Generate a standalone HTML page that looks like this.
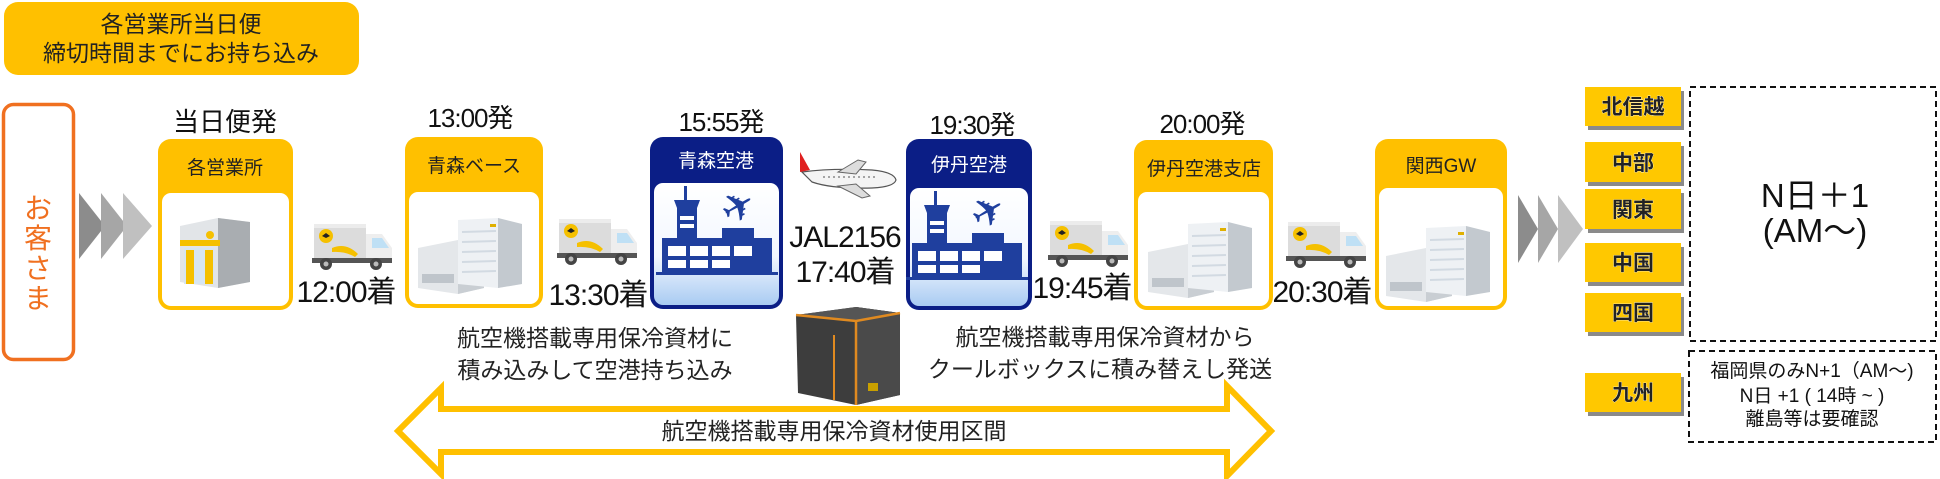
<!DOCTYPE html>
<html><head><meta charset="utf-8"><style>
html,body{margin:0;padding:0;background:#fff;}
svg{display:block;}
text{font-family:"Liberation Sans","Noto Sans CJK JP",sans-serif;}
</style></head><body>
<svg width="1940" height="479" viewBox="0 0 1940 479" xmlns="http://www.w3.org/2000/svg">
<defs>
<linearGradient id="ag" x1="0" y1="0" x2="0" y2="1">
<stop offset="0" stop-color="#ffffff"/><stop offset="0.6" stop-color="#f2f7ff"/><stop offset="1" stop-color="#a9cbf2"/>
</linearGradient>
<g id="truck">
<rect x="0" y="0" width="52" height="34" fill="#dcdcdc"/>
<rect x="0" y="0" width="52" height="4" fill="#ececec"/>
<circle cx="12" cy="12" r="7" fill="#f5c000"/>
<path d="M8 12 l4 -3 l4 3 l-4 2z" fill="#222"/>
<path d="M18 24 q14 -6 26 6 l-3 3 q-10 -6 -23 -5z" fill="#f5c000"/>
<path d="M52 10 h16 l10 14 v12 h-26z" fill="#eeeeee"/>
<path d="M58 14 h10 l7 10 h-17z" fill="#bfe0f5"/>
<rect x="-2" y="34" width="80" height="5" fill="#555"/>
<circle cx="12" cy="40" r="6" fill="#444"/><circle cx="12" cy="40" r="2.5" fill="#bbb"/>
<circle cx="62" cy="40" r="6" fill="#444"/><circle cx="62" cy="40" r="2.5" fill="#bbb"/>
</g>
<g id="bldg">
<path d="M0 30 l40 -8 l26 6 v42 l-26 6 l-40 -6z" fill="#e4e7ea"/>
<path d="M40 22 l26 6 v42 l-26 6z" fill="#c9ced3"/>
<path d="M40 2 l40 -2 l24 6 v60 l-24 4 l-40 -4z" fill="#eef1f4"/>
<path d="M80 0 l24 6 v60 l-24 4z" fill="#c3c9cf"/>
<g stroke="#d2dae2" stroke-width="2"><line x1="44" y1="14" x2="78" y2="13"/><line x1="44" y1="24" x2="78" y2="23"/><line x1="44" y1="34" x2="78" y2="33"/><line x1="44" y1="44" x2="78" y2="43"/><line x1="44" y1="54" x2="78" y2="53"/></g>
<rect x="4" y="56" width="32" height="9" fill="#bfc5cb"/>
<rect x="72" y="6" width="6" height="3" fill="#e0b000"/>
</g>
<g id="apt" fill="#1f3f9e">
<rect x="22" y="6" width="3" height="14"/>
<path d="M12 20 h26 l-3 8 h-20z"/>
<rect x="15" y="28" width="20" height="34"/>
<rect x="18" y="36" width="14" height="4" fill="#fff"/><rect x="18" y="44" width="14" height="4" fill="#fff"/>
<rect x="60" y="48" width="32" height="14"/>
<rect x="0" y="58" width="110" height="34"/>
<rect x="6" y="66" width="18" height="10" fill="#fff"/><rect x="28" y="66" width="18" height="10" fill="#fff"/><rect x="50" y="66" width="18" height="10" fill="#fff"/><rect x="72" y="66" width="18" height="10" fill="#fff"/>
<rect x="6" y="80" width="18" height="8" fill="#fff"/><rect x="28" y="80" width="18" height="8" fill="#fff"/><rect x="50" y="80" width="18" height="8" fill="#fff"/>
<rect x="-6" y="92" width="122" height="3"/>
<text x="78" y="40" font-size="40" transform="rotate(-30 78 30)" text-anchor="middle" fill="#1f3f9e">✈</text>
</g>
</defs>

<!-- top box -->
<rect x="4" y="2" width="355" height="73" rx="14" fill="#ffc000"/>
<text x="181" y="32" font-size="23" text-anchor="middle" fill="#222">各営業所当日便</text>
<text x="181" y="61" font-size="23" text-anchor="middle" fill="#222">締切時間までにお持ち込み</text>

<!-- customer -->
<rect x="3.5" y="104.5" width="70" height="255" rx="10" fill="#fff" stroke="#f07020" stroke-width="3.5"/>
<g font-size="28" fill="#f07020" text-anchor="middle"><text x="38" y="218">お</text><text x="38" y="248">客</text><text x="38" y="278">さ</text><text x="38" y="308">ま</text></g>

<!-- chevrons left -->
<path d="M79 193 l26 33 l-26 33z" fill="#8c8c8c"/>
<path d="M101 193 l26 33 l-26 33z" fill="#a6a6a6"/>
<path d="M123 193 l29 33 l-29 33z" fill="#c0c0c0"/>

<!-- station boxes yellow -->
<g>
<rect x="158" y="139" width="135" height="171" rx="13" fill="#ffc000"/>
<rect x="162" y="193" width="127" height="113" rx="9" fill="#fff"/>
<text x="225" y="174" font-size="19" text-anchor="middle" fill="#222">各営業所</text>
<text x="225" y="131" font-size="26" text-anchor="middle" fill="#111">当日便発</text>
<g transform="translate(180,218)">
<path d="M0 8 l38 -8 l32 4 v60 l-32 6 l-38 -6z" fill="#e2e5e8"/>
<path d="M38 0 l32 4 v60 l-32 6z" fill="#a9adb1"/>
<rect x="4" y="30" width="30" height="36" fill="#d7e6f2"/>
<rect x="6" y="32" width="8" height="34" fill="#f5c000"/><rect x="25" y="32" width="8" height="34" fill="#f5c000"/>
<rect x="0" y="22" width="40" height="6" fill="#f5c000"/>
<circle cx="30" cy="17" r="4" fill="#f5c000"/>
</g>
</g>

<g>
<rect x="405" y="137" width="138" height="171" rx="13" fill="#ffc000"/>
<rect x="409" y="192" width="130" height="112" rx="9" fill="#fff"/>
<text x="474" y="172" font-size="19" text-anchor="middle" fill="#222">青森ベース</text>
<text x="470" y="127" font-size="26" text-anchor="middle" fill="#111" letter-spacing="-1">13:00発</text>
<use href="#bldg" x="418" y="218"/>
</g>

<g>
<rect x="1134" y="140" width="139" height="170" rx="13" fill="#ffc000"/>
<rect x="1138" y="192" width="131" height="114" rx="9" fill="#fff"/>
<text x="1204" y="175" font-size="19" text-anchor="middle" fill="#222">伊丹空港支店</text>
<text x="1202" y="133" font-size="26" text-anchor="middle" fill="#111" letter-spacing="-1">20:00発</text>
<use href="#bldg" x="1148" y="222"/>
</g>

<g>
<rect x="1375" y="139" width="132" height="171" rx="13" fill="#ffc000"/>
<rect x="1379" y="188" width="124" height="118" rx="9" fill="#fff"/>
<text x="1441" y="172" font-size="19" text-anchor="middle" fill="#222">関西GW</text>
<use href="#bldg" x="1386" y="226"/>
</g>

<!-- airport boxes -->
<g>
<rect x="650" y="137" width="133" height="172" rx="13" fill="#0b1e86"/>
<rect x="654" y="183" width="125" height="122" rx="9" fill="url(#ag)"/>
<text x="716" y="167" font-size="19" text-anchor="middle" fill="#fff">青森空港</text>
<text x="721" y="131" font-size="26" text-anchor="middle" fill="#111" letter-spacing="-1">15:55発</text>
<use href="#apt" x="662" y="180"/>
</g>
<g>
<rect x="906" y="139" width="126" height="171" rx="13" fill="#0b1e86"/>
<rect x="910" y="188" width="118" height="118" rx="9" fill="url(#ag)"/>
<text x="969" y="171" font-size="19" text-anchor="middle" fill="#fff">伊丹空港</text>
<text x="972" y="134" font-size="26" text-anchor="middle" fill="#111" letter-spacing="-1">19:30発</text>
<use href="#apt" x="912" y="185"/>
</g>

<!-- plane -->
<g transform="translate(798,152)">
<path d="M4 20 q30 -4 70 -2 q22 2 24 10 q-2 7 -24 8 q-40 1 -60 -6z" fill="#f4f4f4" stroke="#555" stroke-width="1.2"/>
<path d="M2 0 l10 18 l-10 2z" fill="#e02020"/>
<path d="M40 20 l20 -12 l8 2 l-10 12z" fill="#ddd" stroke="#666"/>
<path d="M40 34 l24 12 l8 -2 l-14 -12z" fill="#ddd" stroke="#666"/>
<line x1="25" y1="25" x2="80" y2="25" stroke="#555" stroke-dasharray="2 3"/>
</g>
<text x="845" y="247" font-size="30" text-anchor="middle" fill="#111" letter-spacing="-1">JAL2156</text>
<text x="845" y="282" font-size="30" text-anchor="middle" fill="#111" letter-spacing="-1">17:40着</text>

<!-- cool box -->
<g transform="translate(796,305)">
<path d="M0 10 l60 -8 l44 6 v82 l-44 10 l-58 -12z" fill="#3d3d3d"/>
<path d="M60 2 l44 6 v82 l-44 10z" fill="#4a4a4a"/>
<path d="M0 10 l60 -8 l44 6 l-44 8z" fill="#555"/>
<path d="M0 10 l60 6 l44 -8" fill="none" stroke="#e08a20" stroke-width="2.5"/>
<line x1="60" y1="16" x2="60" y2="100" stroke="#e08a20" stroke-width="2.5"/>
<line x1="38" y1="30" x2="38" y2="95" stroke="#e08a20" stroke-width="2"/>
<rect x="72" y="78" width="10" height="8" fill="#c9a000"/>
</g>

<!-- trucks & times -->
<use href="#truck" x="314" y="224"/>
<use href="#truck" x="559" y="219"/>
<use href="#truck" x="1050" y="221"/>
<use href="#truck" x="1288" y="222"/>
<g font-size="30" fill="#111" text-anchor="middle" letter-spacing="-1">
<text x="346" y="302">12:00着</text>
<text x="598" y="305">13:30着</text>
<text x="1082" y="298">19:45着</text>
<text x="1322" y="302">20:30着</text>
</g>

<!-- descriptions -->
<g font-size="23" fill="#222" text-anchor="middle">
<text x="595" y="346">航空機搭載専用保冷資材に</text>
<text x="595" y="378">積み込みして空港持ち込み</text>
<text x="1105" y="345">航空機搭載専用保冷資材から</text>
<text x="1100" y="377">クールボックスに積み替えし発送</text>
</g>

<!-- double arrow -->
<path d="M398 431 L441 388 V409 H1227 V386 L1271 431 L1227 476 V452 H441 V474 Z" fill="#fff" stroke="#ffc000" stroke-width="6" stroke-linejoin="miter"/>
<text x="834" y="439" font-size="23" text-anchor="middle" fill="#222">航空機搭載専用保冷資材使用区間</text>

<!-- chevrons right -->
<path d="M1518 195 l20 34 l-20 34z" fill="#8c8c8c"/>
<path d="M1538 195 l20 34 l-20 34z" fill="#a6a6a6"/>
<path d="M1558 195 l25 34 l-25 34z" fill="#c0c0c0"/>

<!-- region labels -->
<g>
<rect x="1588" y="91" width="96" height="39" fill="#8a8a8a"/><rect x="1585" y="87" width="96" height="39" fill="#ffc800"/>
<rect x="1588" y="146" width="96" height="40" fill="#8a8a8a"/><rect x="1585" y="142" width="96" height="40" fill="#ffc800"/>
<rect x="1588" y="193" width="96" height="40" fill="#8a8a8a"/><rect x="1585" y="189" width="96" height="40" fill="#ffc800"/>
<rect x="1588" y="247" width="96" height="39" fill="#8a8a8a"/><rect x="1585" y="243" width="96" height="39" fill="#ffc800"/>
<rect x="1588" y="297" width="96" height="39" fill="#8a8a8a"/><rect x="1585" y="293" width="96" height="39" fill="#ffc800"/>
<rect x="1588" y="377" width="96" height="39" fill="#8a8a8a"/><rect x="1585" y="373" width="96" height="39" fill="#ffc800"/>
</g>
<g font-size="21" font-weight="bold" fill="#222" text-anchor="middle" stroke="#fff" stroke-width="0.6" style="paint-order:stroke">
<text x="1633" y="114">北信越</text>
<text x="1633" y="170">中部</text>
<text x="1633" y="217">関東</text>
<text x="1633" y="270">中国</text>
<text x="1633" y="320">四国</text>
<text x="1633" y="400">九州</text>
</g>

<!-- dashed boxes -->
<rect x="1690" y="87" width="246" height="254" fill="#fff" stroke="#111" stroke-width="2" stroke-dasharray="6 4"/>
<text x="1815" y="207" font-size="33" text-anchor="middle" fill="#111">N日＋1</text>
<text x="1815" y="242" font-size="33" text-anchor="middle" fill="#111">(AM〜)</text>
<rect x="1689" y="351" width="247" height="91" fill="#fff" stroke="#111" stroke-width="2" stroke-dasharray="6 4"/>
<g font-size="19" fill="#111" text-anchor="middle">
<text x="1812" y="377">福岡県のみN+1（AM〜)</text>
<text x="1812" y="402">N日 +1 ( 14時 ~ )</text>
<text x="1812" y="425">離島等は要確認</text>
</g>
</svg>
</body></html>
